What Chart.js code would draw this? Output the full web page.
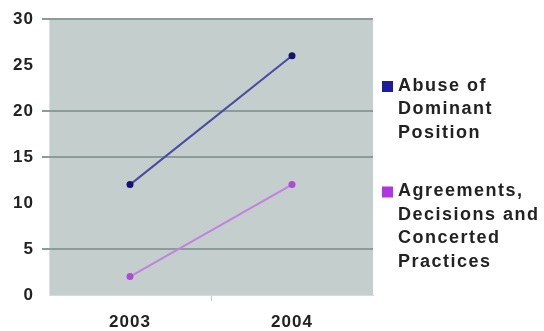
<!DOCTYPE html>
<html>
<head>
<meta charset="utf-8">
<script src="https://cdn.jsdelivr.net/npm/chart.js@4/dist/chart.umd.min.js"></script>
<style>
  html, body { margin: 0; padding: 0; background: #ffffff; }
  #wrap { width: 544px; height: 331px; }
</style>
</head>
<body>
<div id="wrap"><canvas id="c" width="544" height="331"></canvas></div>
<script>
// Years on the category axis
const years = ['2003', '2004'];
// Number of cases per year
const abuseOfDominantPosition = [12, 26];
const agreementsDecisionsPractices = [2, 12];
// Legend text, one entry per line
const abuseLegend = ['Abuse of', 'Dominant', 'Position'];
const agreementsLegend = ['Agreements,', 'Decisions and', 'Concerted', 'Practices'];
// Value axis
const yMin = 0, yMax = 30, yStep = 5;
// Horizontal rules that are drawn across the plot
const ruledValues = [5, 15, 20, 30];

const FONT = '"Liberation Sans", Arial, sans-serif';
const TEXT = '#222222';
const RULE = '#8d9b99';

// Fills the plot area and applies letter spacing to all canvas text
const plotBackground = {
  id: 'plotBackground',
  beforeDraw(chart) {
    const { ctx, chartArea: a } = chart;
    ctx.letterSpacing = '1px';
    ctx.save();
    ctx.fillStyle = '#c3cecd';
    ctx.fillRect(a.left, a.top, a.right - a.left, a.bottom - a.top);
    ctx.restore();
  }
};

// Horizontal rules with their short tick marks, placed by the y scale
const plotRules = {
  id: 'plotRules',
  beforeDatasetsDraw(chart) {
    const { ctx, chartArea: a, scales } = chart;
    ctx.save();
    ctx.strokeStyle = RULE;
    ctx.lineWidth = 2;
    ruledValues.forEach((v) => {
      const y = Math.round(scales.y.getPixelForValue(v));
      ctx.beginPath();
      ctx.moveTo(a.left - 7, y);
      ctx.lineTo(a.right, y);
      ctx.stroke();
    });
    ctx.restore();
  }
};

// Legend at the right with multi-line entries
const sideLegend = {
  id: 'sideLegend',
  afterDraw(chart) {
    const { ctx, chartArea: a } = chart;
    const lineH = 23.5;
    const sqX = a.right + 9, txtX = a.right + 25;
    let y = a.top + 67;
    ctx.save();
    ctx.letterSpacing = '1.5px';
    ctx.font = 'bold 18px ' + FONT;
    ctx.textBaseline = 'middle';
    ctx.textAlign = 'left';
    chart.data.datasets.forEach((ds) => {
      ctx.fillStyle = ds.legendSwatch;
      ctx.fillRect(sqX, y - 5, 11, 11);
      ctx.fillStyle = TEXT;
      ds.legendLines.forEach((line, i) => {
        ctx.fillText(line, txtX, y + i * lineH);
      });
      y += ds.legendLines.length * lineH + 35;
    });
    ctx.restore();
  }
};

new Chart(document.getElementById('c'), {
  type: 'line',
  data: {
    labels: years,
    datasets: [
      {
        label: abuseLegend.join(' '),
        legendLines: abuseLegend,
        legendSwatch: '#1c1c9c',
        data: abuseOfDominantPosition,
        borderColor: '#4a4aa2',
        borderWidth: 2,
        pointRadius: 3.5,
        pointBackgroundColor: '#14146e',
        pointBorderColor: '#14146e',
        pointBorderWidth: 0,
        tension: 0
      },
      {
        label: agreementsLegend.join(' '),
        legendLines: agreementsLegend,
        legendSwatch: '#b235e2',
        data: agreementsDecisionsPractices,
        borderColor: '#c282e0',
        borderWidth: 2,
        pointRadius: 3.5,
        pointBackgroundColor: '#b04ad4',
        pointBorderColor: '#b04ad4',
        pointBorderWidth: 0,
        tension: 0
      }
    ]
  },
  options: {
    responsive: false,
    devicePixelRatio: 1,
    animation: false,
    layout: { padding: { top: 19, right: 171, left: 0, bottom: 0 } },
    plugins: {
      legend: { display: false },
      tooltip: { enabled: false }
    },
    scales: {
      x: {
        offset: true,
        afterFit(s) { s.height = 36; },
        grid: {
          offset: true,
          drawOnChartArea: false,
          tickLength: 6,
          color: (c) => (c.index === 1 ? '#c4cccb' : 'rgba(255,255,255,0)')
        },
        border: { display: true, color: '#d6dcdb', width: 1 },
        ticks: {
          color: TEXT,
          padding: 11,
          font: { family: FONT, size: 17, weight: 'bold' }
        }
      },
      y: {
        min: yMin,
        max: yMax,
        afterFit(s) { s.width = 49; },
        grid: { display: true, tickLength: 7, color: 'rgba(255,255,255,0)' },
        border: { display: true, color: '#dbe1e0', width: 1 },
        ticks: {
          stepSize: yStep,
          color: TEXT,
          padding: 8,
          font: { family: FONT, size: 17, weight: 'bold' }
        }
      }
    }
  },
  plugins: [plotBackground, plotRules, sideLegend]
});
</script>
</body>
</html>
